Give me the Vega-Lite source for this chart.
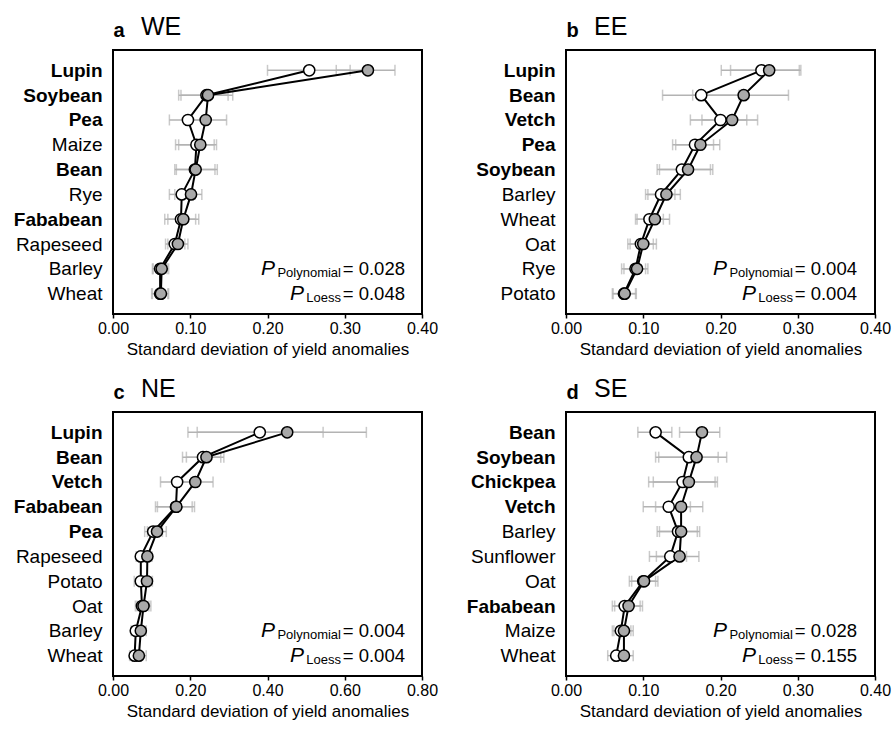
{
  "$schema": "https://vega.github.io/schema/vega-lite/v6.json",
  "background": "white",
  "padding": {"left": 12, "top": 14, "right": 2, "bottom": 4},
  "columns": 2,
  "spacing": {"row": 18, "column": 26},
  "resolve": {"scale": {"x": "independent", "y": "independent"}},
  "datasets": {
    "sd": [
      {"panel": "WE", "crop": "Lupin", "rank": 1, "detrend": "polynomial", "sd": 0.254, "lo": 0.200, "hi": 0.307},
      {"panel": "WE", "crop": "Soybean", "rank": 2, "detrend": "polynomial", "sd": 0.121, "lo": 0.085, "hi": 0.149},
      {"panel": "WE", "crop": "Pea", "rank": 3, "detrend": "polynomial", "sd": 0.097, "lo": 0.073, "hi": 0.122},
      {"panel": "WE", "crop": "Maize", "rank": 4, "detrend": "polynomial", "sd": 0.108, "lo": 0.081, "hi": 0.131},
      {"panel": "WE", "crop": "Bean", "rank": 5, "detrend": "polynomial", "sd": 0.106, "lo": 0.080, "hi": 0.132},
      {"panel": "WE", "crop": "Rye", "rank": 6, "detrend": "polynomial", "sd": 0.089, "lo": 0.073, "hi": 0.106},
      {"panel": "WE", "crop": "Fababean", "rank": 7, "detrend": "polynomial", "sd": 0.088, "lo": 0.067, "hi": 0.107},
      {"panel": "WE", "crop": "Rapeseed", "rank": 8, "detrend": "polynomial", "sd": 0.080, "lo": 0.068, "hi": 0.093},
      {"panel": "WE", "crop": "Barley", "rank": 9, "detrend": "polynomial", "sd": 0.061, "lo": 0.051, "hi": 0.070},
      {"panel": "WE", "crop": "Wheat", "rank": 10, "detrend": "polynomial", "sd": 0.061, "lo": 0.050, "hi": 0.071},
      {"panel": "EE", "crop": "Lupin", "rank": 1, "detrend": "polynomial", "sd": 0.253, "lo": 0.201, "hi": 0.302},
      {"panel": "EE", "crop": "Bean", "rank": 2, "detrend": "polynomial", "sd": 0.175, "lo": 0.125, "hi": 0.224},
      {"panel": "EE", "crop": "Vetch", "rank": 3, "detrend": "polynomial", "sd": 0.200, "lo": 0.161, "hi": 0.234},
      {"panel": "EE", "crop": "Pea", "rank": 4, "detrend": "polynomial", "sd": 0.167, "lo": 0.138, "hi": 0.191},
      {"panel": "EE", "crop": "Soybean", "rank": 5, "detrend": "polynomial", "sd": 0.150, "lo": 0.118, "hi": 0.187},
      {"panel": "EE", "crop": "Barley", "rank": 6, "detrend": "polynomial", "sd": 0.123, "lo": 0.103, "hi": 0.141},
      {"panel": "EE", "crop": "Wheat", "rank": 7, "detrend": "polynomial", "sd": 0.108, "lo": 0.090, "hi": 0.126},
      {"panel": "EE", "crop": "Oat", "rank": 8, "detrend": "polynomial", "sd": 0.097, "lo": 0.080, "hi": 0.113},
      {"panel": "EE", "crop": "Rye", "rank": 9, "detrend": "polynomial", "sd": 0.090, "lo": 0.072, "hi": 0.103},
      {"panel": "EE", "crop": "Potato", "rank": 10, "detrend": "polynomial", "sd": 0.075, "lo": 0.060, "hi": 0.090},
      {"panel": "NE", "crop": "Lupin", "rank": 1, "detrend": "polynomial", "sd": 0.380, "lo": 0.194, "hi": 0.544},
      {"panel": "NE", "crop": "Bean", "rank": 2, "detrend": "polynomial", "sd": 0.233, "lo": 0.180, "hi": 0.279},
      {"panel": "NE", "crop": "Vetch", "rank": 3, "detrend": "polynomial", "sd": 0.166, "lo": 0.123, "hi": 0.210},
      {"panel": "NE", "crop": "Fababean", "rank": 4, "detrend": "polynomial", "sd": 0.163, "lo": 0.110, "hi": 0.205},
      {"panel": "NE", "crop": "Pea", "rank": 5, "detrend": "polynomial", "sd": 0.104, "lo": 0.082, "hi": 0.128},
      {"panel": "NE", "crop": "Rapeseed", "rank": 6, "detrend": "polynomial", "sd": 0.072, "lo": 0.060, "hi": 0.088},
      {"panel": "NE", "crop": "Potato", "rank": 7, "detrend": "polynomial", "sd": 0.072, "lo": 0.055, "hi": 0.089},
      {"panel": "NE", "crop": "Oat", "rank": 8, "detrend": "polynomial", "sd": 0.075, "lo": 0.058, "hi": 0.093},
      {"panel": "NE", "crop": "Barley", "rank": 9, "detrend": "polynomial", "sd": 0.059, "lo": 0.047, "hi": 0.072},
      {"panel": "NE", "crop": "Wheat", "rank": 10, "detrend": "polynomial", "sd": 0.056, "lo": 0.043, "hi": 0.070},
      {"panel": "SE", "crop": "Bean", "rank": 1, "detrend": "polynomial", "sd": 0.116, "lo": 0.093, "hi": 0.137},
      {"panel": "SE", "crop": "Soybean", "rank": 2, "detrend": "polynomial", "sd": 0.159, "lo": 0.120, "hi": 0.197},
      {"panel": "SE", "crop": "Chickpea", "rank": 3, "detrend": "polynomial", "sd": 0.151, "lo": 0.107, "hi": 0.193},
      {"panel": "SE", "crop": "Vetch", "rank": 4, "detrend": "polynomial", "sd": 0.133, "lo": 0.100, "hi": 0.161},
      {"panel": "SE", "crop": "Barley", "rank": 5, "detrend": "polynomial", "sd": 0.145, "lo": 0.118, "hi": 0.170},
      {"panel": "SE", "crop": "Sunflower", "rank": 6, "detrend": "polynomial", "sd": 0.135, "lo": 0.108, "hi": 0.156},
      {"panel": "SE", "crop": "Oat", "rank": 7, "detrend": "polynomial", "sd": 0.100, "lo": 0.082, "hi": 0.116},
      {"panel": "SE", "crop": "Fababean", "rank": 8, "detrend": "polynomial", "sd": 0.076, "lo": 0.060, "hi": 0.096},
      {"panel": "SE", "crop": "Maize", "rank": 9, "detrend": "polynomial", "sd": 0.071, "lo": 0.060, "hi": 0.084},
      {"panel": "SE", "crop": "Wheat", "rank": 10, "detrend": "polynomial", "sd": 0.065, "lo": 0.054, "hi": 0.077},
      {"panel": "WE", "crop": "Lupin", "rank": 1, "detrend": "loess", "sd": 0.330, "lo": 0.289, "hi": 0.365},
      {"panel": "WE", "crop": "Soybean", "rank": 2, "detrend": "loess", "sd": 0.123, "lo": 0.088, "hi": 0.155},
      {"panel": "WE", "crop": "Pea", "rank": 3, "detrend": "loess", "sd": 0.120, "lo": 0.095, "hi": 0.147},
      {"panel": "WE", "crop": "Maize", "rank": 4, "detrend": "loess", "sd": 0.113, "lo": 0.085, "hi": 0.134},
      {"panel": "WE", "crop": "Bean", "rank": 5, "detrend": "loess", "sd": 0.107, "lo": 0.082, "hi": 0.135},
      {"panel": "WE", "crop": "Rye", "rank": 6, "detrend": "loess", "sd": 0.101, "lo": 0.080, "hi": 0.115},
      {"panel": "WE", "crop": "Fababean", "rank": 7, "detrend": "loess", "sd": 0.091, "lo": 0.071, "hi": 0.111},
      {"panel": "WE", "crop": "Rapeseed", "rank": 8, "detrend": "loess", "sd": 0.084, "lo": 0.071, "hi": 0.097},
      {"panel": "WE", "crop": "Barley", "rank": 9, "detrend": "loess", "sd": 0.063, "lo": 0.052, "hi": 0.072},
      {"panel": "WE", "crop": "Wheat", "rank": 10, "detrend": "loess", "sd": 0.062, "lo": 0.051, "hi": 0.072},
      {"panel": "EE", "crop": "Lupin", "rank": 1, "detrend": "loess", "sd": 0.263, "lo": 0.213, "hi": 0.304},
      {"panel": "EE", "crop": "Bean", "rank": 2, "detrend": "loess", "sd": 0.230, "lo": 0.164, "hi": 0.288},
      {"panel": "EE", "crop": "Vetch", "rank": 3, "detrend": "loess", "sd": 0.215, "lo": 0.176, "hi": 0.248},
      {"panel": "EE", "crop": "Pea", "rank": 4, "detrend": "loess", "sd": 0.174, "lo": 0.142, "hi": 0.199},
      {"panel": "EE", "crop": "Soybean", "rank": 5, "detrend": "loess", "sd": 0.158, "lo": 0.121, "hi": 0.190},
      {"panel": "EE", "crop": "Barley", "rank": 6, "detrend": "loess", "sd": 0.130, "lo": 0.106, "hi": 0.148},
      {"panel": "EE", "crop": "Wheat", "rank": 7, "detrend": "loess", "sd": 0.115, "lo": 0.092, "hi": 0.134},
      {"panel": "EE", "crop": "Oat", "rank": 8, "detrend": "loess", "sd": 0.100, "lo": 0.083, "hi": 0.117},
      {"panel": "EE", "crop": "Rye", "rank": 9, "detrend": "loess", "sd": 0.092, "lo": 0.075, "hi": 0.106},
      {"panel": "EE", "crop": "Potato", "rank": 10, "detrend": "loess", "sd": 0.076, "lo": 0.061, "hi": 0.091},
      {"panel": "NE", "crop": "Lupin", "rank": 1, "detrend": "loess", "sd": 0.451, "lo": 0.218, "hi": 0.656},
      {"panel": "NE", "crop": "Bean", "rank": 2, "detrend": "loess", "sd": 0.242, "lo": 0.190, "hi": 0.287},
      {"panel": "NE", "crop": "Vetch", "rank": 3, "detrend": "loess", "sd": 0.213, "lo": 0.170, "hi": 0.259},
      {"panel": "NE", "crop": "Fababean", "rank": 4, "detrend": "loess", "sd": 0.164, "lo": 0.115, "hi": 0.211},
      {"panel": "NE", "crop": "Pea", "rank": 5, "detrend": "loess", "sd": 0.114, "lo": 0.089, "hi": 0.138},
      {"panel": "NE", "crop": "Rapeseed", "rank": 6, "detrend": "loess", "sd": 0.089, "lo": 0.070, "hi": 0.101},
      {"panel": "NE", "crop": "Potato", "rank": 7, "detrend": "loess", "sd": 0.088, "lo": 0.071, "hi": 0.102},
      {"panel": "NE", "crop": "Oat", "rank": 8, "detrend": "loess", "sd": 0.079, "lo": 0.062, "hi": 0.098},
      {"panel": "NE", "crop": "Barley", "rank": 9, "detrend": "loess", "sd": 0.072, "lo": 0.057, "hi": 0.086},
      {"panel": "NE", "crop": "Wheat", "rank": 10, "detrend": "loess", "sd": 0.067, "lo": 0.050, "hi": 0.086},
      {"panel": "SE", "crop": "Bean", "rank": 1, "detrend": "loess", "sd": 0.176, "lo": 0.147, "hi": 0.199},
      {"panel": "SE", "crop": "Soybean", "rank": 2, "detrend": "loess", "sd": 0.169, "lo": 0.116, "hi": 0.208},
      {"panel": "SE", "crop": "Chickpea", "rank": 3, "detrend": "loess", "sd": 0.159, "lo": 0.113, "hi": 0.196},
      {"panel": "SE", "crop": "Vetch", "rank": 4, "detrend": "loess", "sd": 0.149, "lo": 0.116, "hi": 0.177},
      {"panel": "SE", "crop": "Barley", "rank": 5, "detrend": "loess", "sd": 0.149, "lo": 0.121, "hi": 0.173},
      {"panel": "SE", "crop": "Sunflower", "rank": 6, "detrend": "loess", "sd": 0.147, "lo": 0.117, "hi": 0.172},
      {"panel": "SE", "crop": "Oat", "rank": 7, "detrend": "loess", "sd": 0.101, "lo": 0.085, "hi": 0.119},
      {"panel": "SE", "crop": "Fababean", "rank": 8, "detrend": "loess", "sd": 0.081, "lo": 0.063, "hi": 0.099},
      {"panel": "SE", "crop": "Maize", "rank": 9, "detrend": "loess", "sd": 0.075, "lo": 0.062, "hi": 0.087},
      {"panel": "SE", "crop": "Wheat", "rank": 10, "detrend": "loess", "sd": 0.075, "lo": 0.062, "hi": 0.087}
    ],
    "notes": [
      {"panel": "WE", "crop": "Barley", "sub": "Polynomial", "eq": "= 0.028"},
      {"panel": "WE", "crop": "Wheat", "sub": "Loess", "eq": "= 0.048"},
      {"panel": "EE", "crop": "Rye", "sub": "Polynomial", "eq": "= 0.004"},
      {"panel": "EE", "crop": "Potato", "sub": "Loess", "eq": "= 0.004"},
      {"panel": "NE", "crop": "Barley", "sub": "Polynomial", "eq": "= 0.004"},
      {"panel": "NE", "crop": "Wheat", "sub": "Loess", "eq": "= 0.004"},
      {"panel": "SE", "crop": "Maize", "sub": "Polynomial", "eq": "= 0.028"},
      {"panel": "SE", "crop": "Wheat", "sub": "Loess", "eq": "= 0.155"}
    ]
  },
  "concat": [
    {
      "width": 309, "height": 264,
      "title": {"text": "WE"},
      "encoding": {"y": {"field": "crop", "type": "nominal", "scale": {"type": "point", "padding": 0.82, "domain": ["Lupin", "Soybean", "Pea", "Maize", "Bean", "Rye", "Fababean", "Rapeseed", "Barley", "Wheat"]}, "axis": {"title": "a", "labelFontWeight": {"condition": {"test": "indexof(['Lupin','Soybean','Pea','Bean','Fababean','Vetch','Chickpea'], datum.value) >= 0", "value": "bold"}, "value": "normal"}}}},
      "layer": [
        {"data": {"name": "sd"}, "transform": [{"filter": "datum.panel === 'WE'"}],
         "mark": {"type": "errorbar", "color": "#b3b3b3", "thickness": 1.5, "ticks": {"size": 11, "thickness": 1.5, "color": "#b3b3b3"}},
         "encoding": {"x": {"field": "lo", "type": "quantitative", "title": "Standard deviation of yield anomalies", "scale": {"domain": [0, 0.4], "nice": false}, "axis": {"values": [0, 0.1, 0.2, 0.3, 0.4]}}, "x2": {"field": "hi"}}},
        {"data": {"name": "sd"}, "transform": [{"filter": "datum.panel === 'WE'"}],
         "mark": {"type": "line", "color": "black", "strokeWidth": 2},
         "encoding": {"x": {"field": "sd", "type": "quantitative", "title": "Standard deviation of yield anomalies"}, "detail": {"field": "detrend"}, "order": {"field": "rank", "type": "quantitative"}}},
        {"data": {"name": "sd"}, "transform": [{"filter": "datum.panel === 'WE'"}],
         "mark": {"type": "point", "filled": true, "size": 125, "stroke": "black", "strokeWidth": 1.5, "opacity": 1},
         "encoding": {"x": {"field": "sd", "type": "quantitative", "title": "Standard deviation of yield anomalies"}, "fill": {"field": "detrend", "scale": {"domain": ["polynomial", "loess"], "range": ["white", "#a9a9a9"]}, "legend": null}}},
        {"data": {"name": "notes"}, "transform": [{"filter": "datum.panel === 'WE'"}],
         "mark": {"type": "text", "align": "right", "baseline": "alphabetic", "fontSize": 18.5, "dx": -17, "dy": 6, "color": "black"},
         "encoding": {"x": {"datum": 0.4}, "text": {"field": "eq"}}},
        {"data": {"name": "notes"}, "transform": [{"filter": "datum.panel === 'WE'"}],
         "mark": {"type": "text", "align": "right", "baseline": "alphabetic", "fontSize": 13, "dx": -81, "dy": 8, "color": "black"},
         "encoding": {"x": {"datum": 0.4}, "text": {"field": "sub"}}},
        {"data": {"name": "notes"}, "transform": [{"filter": "datum.panel === 'WE' && datum.sub === 'Polynomial'"}],
         "mark": {"type": "text", "text": "P", "align": "right", "baseline": "alphabetic", "fontSize": 21, "fontStyle": "italic", "dx": -147, "dy": 6, "color": "black"},
         "encoding": {"x": {"datum": 0.4}}},
        {"data": {"name": "notes"}, "transform": [{"filter": "datum.panel === 'WE' && datum.sub === 'Loess'"}],
         "mark": {"type": "text", "text": "P", "align": "right", "baseline": "alphabetic", "fontSize": 21, "fontStyle": "italic", "dx": -118, "dy": 6, "color": "black"},
         "encoding": {"x": {"datum": 0.4}}}
      ]
    },
    {
      "width": 309, "height": 264,
      "title": {"text": "EE"},
      "encoding": {"y": {"field": "crop", "type": "nominal", "scale": {"type": "point", "padding": 0.82, "domain": ["Lupin", "Bean", "Vetch", "Pea", "Soybean", "Barley", "Wheat", "Oat", "Rye", "Potato"]}, "axis": {"title": "b", "labelFontWeight": {"condition": {"test": "indexof(['Lupin','Soybean','Pea','Bean','Fababean','Vetch','Chickpea'], datum.value) >= 0", "value": "bold"}, "value": "normal"}}}},
      "layer": [
        {"data": {"name": "sd"}, "transform": [{"filter": "datum.panel === 'EE'"}],
         "mark": {"type": "errorbar", "color": "#b3b3b3", "thickness": 1.5, "ticks": {"size": 11, "thickness": 1.5, "color": "#b3b3b3"}},
         "encoding": {"x": {"field": "lo", "type": "quantitative", "title": "Standard deviation of yield anomalies", "scale": {"domain": [0, 0.4], "nice": false}, "axis": {"values": [0, 0.1, 0.2, 0.3, 0.4]}}, "x2": {"field": "hi"}}},
        {"data": {"name": "sd"}, "transform": [{"filter": "datum.panel === 'EE'"}],
         "mark": {"type": "line", "color": "black", "strokeWidth": 2},
         "encoding": {"x": {"field": "sd", "type": "quantitative", "title": "Standard deviation of yield anomalies"}, "detail": {"field": "detrend"}, "order": {"field": "rank", "type": "quantitative"}}},
        {"data": {"name": "sd"}, "transform": [{"filter": "datum.panel === 'EE'"}],
         "mark": {"type": "point", "filled": true, "size": 125, "stroke": "black", "strokeWidth": 1.5, "opacity": 1},
         "encoding": {"x": {"field": "sd", "type": "quantitative", "title": "Standard deviation of yield anomalies"}, "fill": {"field": "detrend", "scale": {"domain": ["polynomial", "loess"], "range": ["white", "#a9a9a9"]}, "legend": null}}},
        {"data": {"name": "notes"}, "transform": [{"filter": "datum.panel === 'EE'"}],
         "mark": {"type": "text", "align": "right", "baseline": "alphabetic", "fontSize": 18.5, "dx": -18, "dy": 6, "color": "black"},
         "encoding": {"x": {"datum": 0.4}, "text": {"field": "eq"}}},
        {"data": {"name": "notes"}, "transform": [{"filter": "datum.panel === 'EE'"}],
         "mark": {"type": "text", "align": "right", "baseline": "alphabetic", "fontSize": 13, "dx": -82, "dy": 8, "color": "black"},
         "encoding": {"x": {"datum": 0.4}, "text": {"field": "sub"}}},
        {"data": {"name": "notes"}, "transform": [{"filter": "datum.panel === 'EE' && datum.sub === 'Polynomial'"}],
         "mark": {"type": "text", "text": "P", "align": "right", "baseline": "alphabetic", "fontSize": 21, "fontStyle": "italic", "dx": -148, "dy": 6, "color": "black"},
         "encoding": {"x": {"datum": 0.4}}},
        {"data": {"name": "notes"}, "transform": [{"filter": "datum.panel === 'EE' && datum.sub === 'Loess'"}],
         "mark": {"type": "text", "text": "P", "align": "right", "baseline": "alphabetic", "fontSize": 21, "fontStyle": "italic", "dx": -119, "dy": 6, "color": "black"},
         "encoding": {"x": {"datum": 0.4}}}
      ]
    },
    {
      "width": 309, "height": 264,
      "title": {"text": "NE"},
      "encoding": {"y": {"field": "crop", "type": "nominal", "scale": {"type": "point", "padding": 0.82, "domain": ["Lupin", "Bean", "Vetch", "Fababean", "Pea", "Rapeseed", "Potato", "Oat", "Barley", "Wheat"]}, "axis": {"title": "c", "labelFontWeight": {"condition": {"test": "indexof(['Lupin','Soybean','Pea','Bean','Fababean','Vetch','Chickpea'], datum.value) >= 0", "value": "bold"}, "value": "normal"}}}},
      "layer": [
        {"data": {"name": "sd"}, "transform": [{"filter": "datum.panel === 'NE'"}],
         "mark": {"type": "errorbar", "color": "#b3b3b3", "thickness": 1.5, "ticks": {"size": 11, "thickness": 1.5, "color": "#b3b3b3"}},
         "encoding": {"x": {"field": "lo", "type": "quantitative", "title": "Standard deviation of yield anomalies", "scale": {"domain": [0, 0.8], "nice": false}, "axis": {"values": [0, 0.2, 0.4, 0.6, 0.8]}}, "x2": {"field": "hi"}}},
        {"data": {"name": "sd"}, "transform": [{"filter": "datum.panel === 'NE'"}],
         "mark": {"type": "line", "color": "black", "strokeWidth": 2},
         "encoding": {"x": {"field": "sd", "type": "quantitative", "title": "Standard deviation of yield anomalies"}, "detail": {"field": "detrend"}, "order": {"field": "rank", "type": "quantitative"}}},
        {"data": {"name": "sd"}, "transform": [{"filter": "datum.panel === 'NE'"}],
         "mark": {"type": "point", "filled": true, "size": 125, "stroke": "black", "strokeWidth": 1.5, "opacity": 1},
         "encoding": {"x": {"field": "sd", "type": "quantitative", "title": "Standard deviation of yield anomalies"}, "fill": {"field": "detrend", "scale": {"domain": ["polynomial", "loess"], "range": ["white", "#a9a9a9"]}, "legend": null}}},
        {"data": {"name": "notes"}, "transform": [{"filter": "datum.panel === 'NE'"}],
         "mark": {"type": "text", "align": "right", "baseline": "alphabetic", "fontSize": 18.5, "dx": -17, "dy": 6, "color": "black"},
         "encoding": {"x": {"datum": 0.8}, "text": {"field": "eq"}}},
        {"data": {"name": "notes"}, "transform": [{"filter": "datum.panel === 'NE'"}],
         "mark": {"type": "text", "align": "right", "baseline": "alphabetic", "fontSize": 13, "dx": -81, "dy": 8, "color": "black"},
         "encoding": {"x": {"datum": 0.8}, "text": {"field": "sub"}}},
        {"data": {"name": "notes"}, "transform": [{"filter": "datum.panel === 'NE' && datum.sub === 'Polynomial'"}],
         "mark": {"type": "text", "text": "P", "align": "right", "baseline": "alphabetic", "fontSize": 21, "fontStyle": "italic", "dx": -147, "dy": 6, "color": "black"},
         "encoding": {"x": {"datum": 0.8}}},
        {"data": {"name": "notes"}, "transform": [{"filter": "datum.panel === 'NE' && datum.sub === 'Loess'"}],
         "mark": {"type": "text", "text": "P", "align": "right", "baseline": "alphabetic", "fontSize": 21, "fontStyle": "italic", "dx": -118, "dy": 6, "color": "black"},
         "encoding": {"x": {"datum": 0.8}}}
      ]
    },
    {
      "width": 309, "height": 264,
      "title": {"text": "SE"},
      "encoding": {"y": {"field": "crop", "type": "nominal", "scale": {"type": "point", "padding": 0.82, "domain": ["Bean", "Soybean", "Chickpea", "Vetch", "Barley", "Sunflower", "Oat", "Fababean", "Maize", "Wheat"]}, "axis": {"title": "d", "labelFontWeight": {"condition": {"test": "indexof(['Lupin','Soybean','Pea','Bean','Fababean','Vetch','Chickpea'], datum.value) >= 0", "value": "bold"}, "value": "normal"}}}},
      "layer": [
        {"data": {"name": "sd"}, "transform": [{"filter": "datum.panel === 'SE'"}],
         "mark": {"type": "errorbar", "color": "#b3b3b3", "thickness": 1.5, "ticks": {"size": 11, "thickness": 1.5, "color": "#b3b3b3"}},
         "encoding": {"x": {"field": "lo", "type": "quantitative", "title": "Standard deviation of yield anomalies", "scale": {"domain": [0, 0.4], "nice": false}, "axis": {"values": [0, 0.1, 0.2, 0.3, 0.4]}}, "x2": {"field": "hi"}}},
        {"data": {"name": "sd"}, "transform": [{"filter": "datum.panel === 'SE'"}],
         "mark": {"type": "line", "color": "black", "strokeWidth": 2},
         "encoding": {"x": {"field": "sd", "type": "quantitative", "title": "Standard deviation of yield anomalies"}, "detail": {"field": "detrend"}, "order": {"field": "rank", "type": "quantitative"}}},
        {"data": {"name": "sd"}, "transform": [{"filter": "datum.panel === 'SE'"}],
         "mark": {"type": "point", "filled": true, "size": 125, "stroke": "black", "strokeWidth": 1.5, "opacity": 1},
         "encoding": {"x": {"field": "sd", "type": "quantitative", "title": "Standard deviation of yield anomalies"}, "fill": {"field": "detrend", "scale": {"domain": ["polynomial", "loess"], "range": ["white", "#a9a9a9"]}, "legend": null}}},
        {"data": {"name": "notes"}, "transform": [{"filter": "datum.panel === 'SE'"}],
         "mark": {"type": "text", "align": "right", "baseline": "alphabetic", "fontSize": 18.5, "dx": -18, "dy": 6, "color": "black"},
         "encoding": {"x": {"datum": 0.4}, "text": {"field": "eq"}}},
        {"data": {"name": "notes"}, "transform": [{"filter": "datum.panel === 'SE'"}],
         "mark": {"type": "text", "align": "right", "baseline": "alphabetic", "fontSize": 13, "dx": -82, "dy": 8, "color": "black"},
         "encoding": {"x": {"datum": 0.4}, "text": {"field": "sub"}}},
        {"data": {"name": "notes"}, "transform": [{"filter": "datum.panel === 'SE' && datum.sub === 'Polynomial'"}],
         "mark": {"type": "text", "text": "P", "align": "right", "baseline": "alphabetic", "fontSize": 21, "fontStyle": "italic", "dx": -148, "dy": 6, "color": "black"},
         "encoding": {"x": {"datum": 0.4}}},
        {"data": {"name": "notes"}, "transform": [{"filter": "datum.panel === 'SE' && datum.sub === 'Loess'"}],
         "mark": {"type": "text", "text": "P", "align": "right", "baseline": "alphabetic", "fontSize": 21, "fontStyle": "italic", "dx": -119, "dy": 6, "color": "black"},
         "encoding": {"x": {"datum": 0.4}}}
      ]
    }
  ],
  "config": {
    "font": "Liberation Sans",
    "view": {"stroke": "black", "strokeWidth": 2},
    "title": {"anchor": "start", "frame": "group", "fontSize": 25, "fontWeight": "normal", "color": "black", "dx": 28, "baseline": "alphabetic", "offset": -20},
    "axisX": {
      "domain": false, "tickColor": "black", "tickSize": 4, "tickWidth": 1.5,
      "labelFontSize": 16, "labelColor": "black", "labelPadding": 2, "labelFlush": false, "format": ".2f",
      "titleFontSize": 17, "titleFontWeight": "normal", "titleColor": "black", "titlePadding": 5,
      "grid": true, "gridColor": "#9a9a9a", "gridDash": [2, 3], "gridWidth": 1.2,
      "gridOpacity": {"condition": {"test": "datum.index > 0 && datum.index < 1", "value": 1}, "value": 0}
    },
    "axisY": {
      "domain": false, "ticks": false, "grid": false,
      "labelFontSize": 19, "labelColor": "black", "labelPadding": 11,
      "titleAngle": 0, "titleAlign": "left", "titleBaseline": "alphabetic", "titleX": 0, "titleY": -14,
      "titleFontSize": 20, "titleFontWeight": "bold", "titleColor": "black"
    }
  }
}
